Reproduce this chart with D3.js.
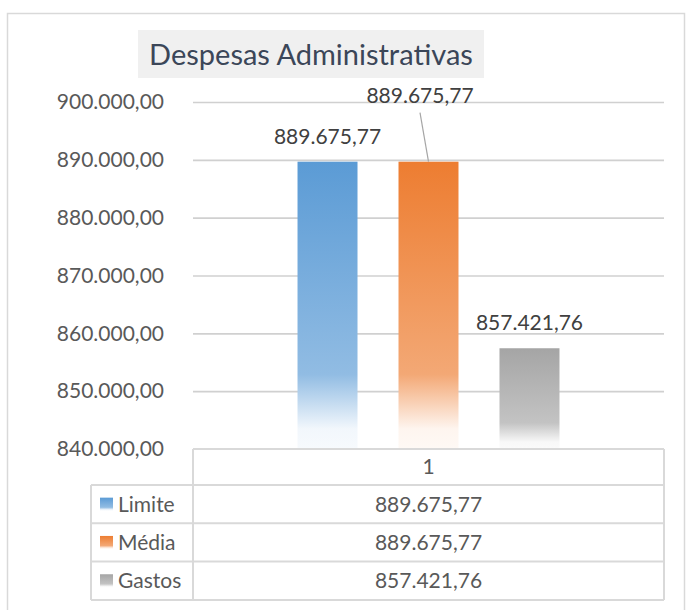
<!DOCTYPE html>
<html>
<head>
<meta charset="utf-8">
<script src="https://cdn.jsdelivr.net/npm/d3@7"></script>
<style>
  body { margin: 0; background: #fff; }
  svg { display: block; font-family: Lato, "Open Sans", sans-serif; }
</style>
</head>
<body>
<div id="chart"></div>
<script>
// data
const categories = ["1"]
const series = ["Limite", "Média", "Gastos"]
const values = [889675.77, 889675.77, 857421.76]
const yTicks = [840000, 850000, 860000, 870000, 880000, 890000, 900000]
const title = "Despesas Administrativas"

const colors = { "Limite": "#5b9bd5", "Média": "#ed7d31", "Gastos": "#a5a5a5" }

const width = 686, height = 610
const margin = { top: 102, right: 22, bottom: 161, left: 193 }

const br = d3.formatLocale({ decimal: ",", thousands: ".", grouping: [3], currency: ["R$", ""] })
const fmt = br.format(",.2f")

const svg = d3.select("#chart").append("svg")
    .attr("width", width)
    .attr("height", height)

// gradients like the excel fill (solid on top, fading to white at the bottom)
const defs = svg.append("defs")
series.forEach((s, i) => {
    const c = colors[s]
    const mix = t => d3.interpolateRgb(c, "#ffffff")(t)
    const g = defs.append("linearGradient")
        .attr("id", "grad" + i)
        .attr("x1", 0).attr("y1", 0).attr("x2", 0).attr("y2", 1)
    const stops = [[0, 0], [0.74, 0.33], [0.93, 0.92], [1, 0.95]]
    stops.forEach(([o, t]) => g.append("stop").attr("offset", o).attr("stop-color", mix(t)))
})

// outer chart border
svg.append("rect")
    .attr("x", 7.5).attr("y", 13.5)
    .attr("width", 677).attr("height", 620)
    .attr("fill", "none")
    .attr("stroke", "#d9d9d9")
    .attr("stroke-width", 1.5)

const y = d3.scaleLinear()
    .domain([840000, 900000])
    .range([height - margin.bottom + 0, margin.top])

const x0 = d3.scaleBand()
    .domain(categories)
    .range([margin.left, width - margin.right])

const x1 = d3.scaleBand()
    .domain(series)
    .range([0, x0.bandwidth()])
    .paddingInner(0.406)
    .paddingOuter(1.035)

// gridlines
svg.append("g")
    .attr("class", "grid")
    .attr("transform", `translate(${margin.left},0)`)
    .call(d3.axisLeft(y).tickValues(yTicks.slice(1)).tickSize(-(width - margin.right - margin.left)).tickFormat(""))
    .call(g => g.select(".domain").remove())
    .call(g => g.selectAll("line").attr("stroke", "#d0d0d0").attr("stroke-width", 1.6))

// y axis labels
svg.append("g")
    .attr("class", "y-axis")
    .attr("transform", `translate(${margin.left},0)`)
    .call(d3.axisLeft(y).tickValues(yTicks).tickSize(0).tickPadding(29).tickFormat(fmt))
    .call(g => g.select(".domain").remove())
    .call(g => g.selectAll("text")
        .attr("fill", "#595959")
        .style("font-size", "21px")
        .style("font-family", "Lato, sans-serif"))

// bars
const bars = svg.append("g")
    .selectAll("g")
    .data(categories)
    .join("g")
    .attr("transform", d => `translate(${x0(d)},0)`)

bars.selectAll("rect")
    .data(series.map((s, i) => ({ s, i, v: values[i] })))
    .join("rect")
    .attr("x", d => x1(d.s))
    .attr("y", d => y(d.v))
    .attr("width", x1.bandwidth())
    .attr("height", d => y(840000) - y(d.v))
    .attr("fill", d => `url(#grad${d.i})`)

// data labels (the middle one was dragged up in the original, with a leader line)
const labelShift = [[0, 0], [-8.5, -41], [0, 0]]
bars.selectAll("text.lbl")
    .data(series.map((s, i) => ({ s, i, v: values[i] })))
    .join("text")
    .attr("class", "lbl")
    .attr("x", d => x1(d.s) + x1.bandwidth() / 2 + labelShift[d.i][0])
    .attr("y", d => y(d.v) - 18 + labelShift[d.i][1])
    .attr("text-anchor", "middle")
    .attr("fill", "#404040")
    .style("font-size", "21px")
    .text(d => fmt(d.v))

bars.selectAll("line.leader")
    .data(series.map((s, i) => ({ s, i, v: values[i] })).filter(d => labelShift[d.i][1] !== 0))
    .join("line")
    .attr("class", "leader")
    .attr("x1", d => x1(d.s) + x1.bandwidth() / 2 + labelShift[d.i][0])
    .attr("y1", d => y(d.v) - 18 + labelShift[d.i][1] + 10)
    .attr("x2", d => x1(d.s) + x1.bandwidth() / 2)
    .attr("y2", d => y(d.v))
    .attr("stroke", "#a6a6a6")
    .attr("stroke-width", 1.2)

// data table
const tableTop = y(840000)
const headH = 36, rowH = 38.3
const legendLeft = 91
const tLine = "#d9d9d9"
const table = svg.append("g").attr("class", "data-table")

const xl = margin.left, xr = width - margin.right
const rowYs = series.map((s, i) => tableTop + headH + i * rowH)
const tableBottom = tableTop + headH + series.length * rowH

// horizontal lines
table.append("line")
    .attr("x1", xl).attr("x2", xr).attr("y1", tableTop).attr("y2", tableTop)
table.selectAll("line.row")
    .data(rowYs.concat([tableBottom]))
    .join("line")
    .attr("class", "row")
    .attr("x1", legendLeft).attr("x2", xr)
    .attr("y1", d => d).attr("y2", d => d)
// vertical lines
table.append("line").attr("x1", xl).attr("x2", xl).attr("y1", tableTop).attr("y2", tableBottom)
table.append("line").attr("x1", xr).attr("x2", xr).attr("y1", tableTop).attr("y2", tableBottom)
table.append("line").attr("x1", legendLeft).attr("x2", legendLeft).attr("y1", rowYs[0]).attr("y2", tableBottom)
table.selectAll("line").attr("stroke", tLine).attr("stroke-width", 2)

// header
table.selectAll("text.head")
    .data(categories)
    .join("text")
    .attr("class", "head")
    .attr("x", d => x0(d) + x0.bandwidth() / 2)
    .attr("y", tableTop + headH / 2)
    .attr("dy", "0.35em")
    .attr("text-anchor", "middle")
    .attr("fill", "#595959")
    .style("font-size", "21px")
    .text(d => d)

// legend keys + names
const rows = table.selectAll("g.trow")
    .data(series.map((s, i) => ({ s, i, v: values[i] })))
    .join("g")
    .attr("class", "trow")
    .attr("transform", d => `translate(0,${rowYs[d.i] + rowH / 2})`)

rows.append("rect")
    .attr("x", 100).attr("y", -6.5)
    .attr("width", 13).attr("height", 13)
    .attr("fill", d => `url(#grad${d.i})`)

rows.append("text")
    .attr("x", 118)
    .attr("dy", "0.35em")
    .attr("fill", "#595959")
    .style("font-size", "21px")
    .text(d => d.s)

rows.append("text")
    .attr("x", x0(categories[0]) + x0.bandwidth() / 2)
    .attr("dy", "0.35em")
    .attr("text-anchor", "middle")
    .attr("fill", "#595959")
    .style("font-size", "21px")
    .text(d => fmt(d.v))

// title
svg.append("rect")
    .attr("x", 138).attr("y", 30)
    .attr("width", 346).attr("height", 48)
    .attr("fill", "#f0f0f0")

svg.append("text")
    .attr("x", 311)
    .attr("y", 65)
    .attr("text-anchor", "middle")
    .attr("fill", "#3b4658")
    .style("font-size", "29px")
    .text(title)
</script>
</body>
</html>
